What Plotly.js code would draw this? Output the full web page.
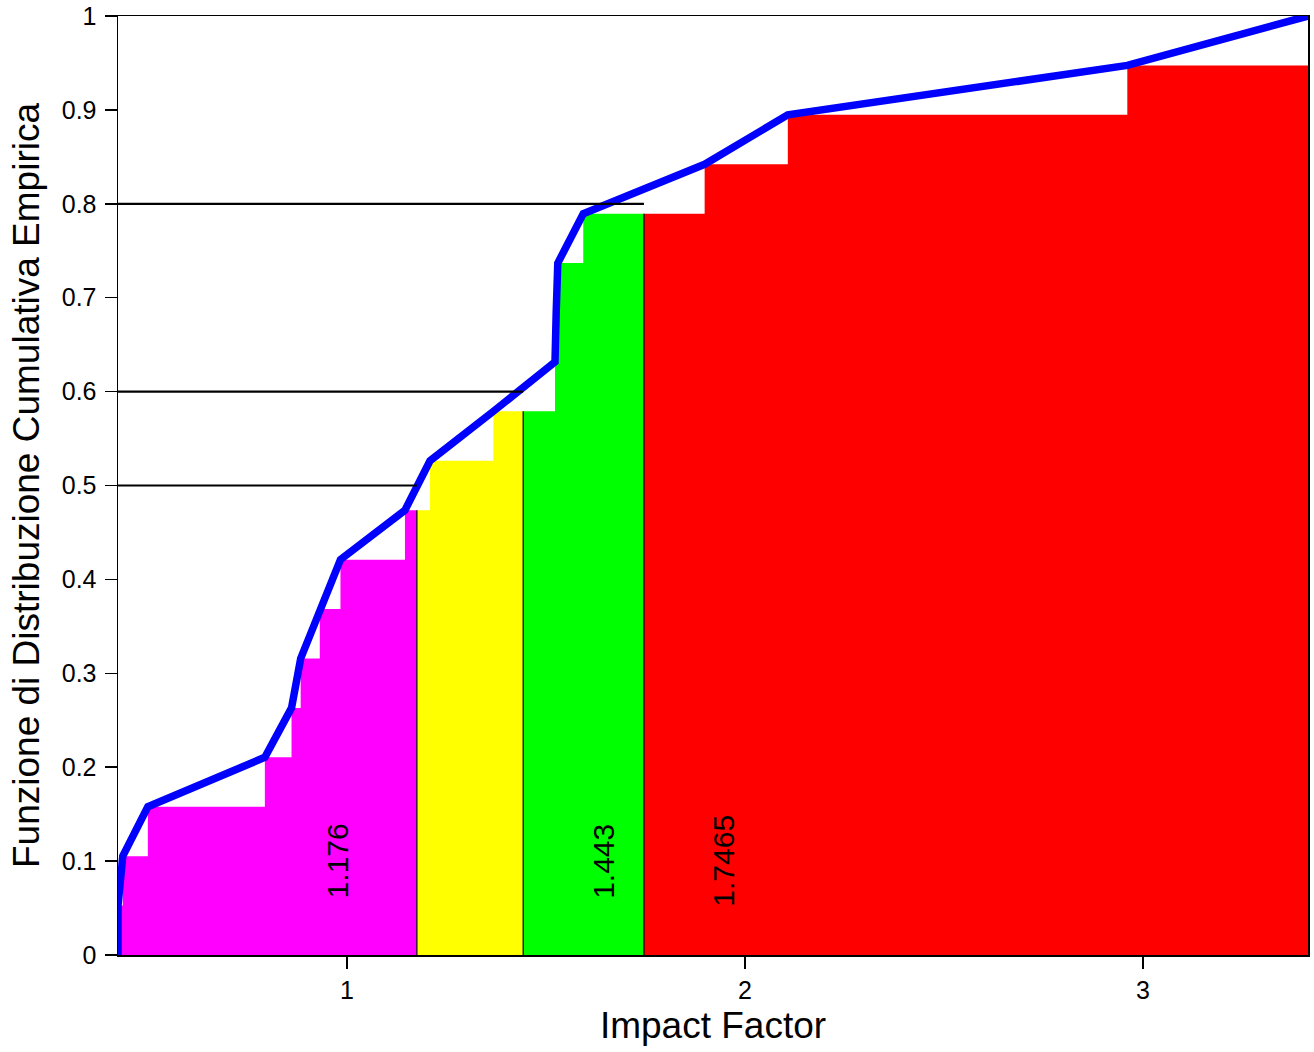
<!DOCTYPE html>
<html>
<head>
<meta charset="utf-8">
<script src="https://cdn.plot.ly/plotly-3.0.1.min.js"></script>
<style>html,body{margin:0;padding:0;background:#fff;}#chart{width:1314px;height:1052px;}</style>
</head>
<body>
<div id="chart"></div>
<script>
// Sorted Impact Factor values, n = 19
var impactFactor = [0.425, 0.437, 0.500, 0.794, 0.861, 0.884, 0.932, 0.984, 1.146, 1.209,
                    1.368, 1.523, 1.526, 1.530, 1.594, 1.899, 2.108, 2.961, 3.415];
// Empirical CDF values i/n
var n = impactFactor.length;
var ecdf = impactFactor.map(function(_, i){ return (i + 1) / n; });
// Quantiles shown in the chart
var quantileProbs = [0.5, 0.6, 0.8];
var quantileValues = [1.176, 1.443, 1.7465];
var quantileLabels = ["1.176", "1.443", "1.7465"];
var regionColors = ["#FF00FF", "#FFFF00", "#00FF00", "#FF0000"];

var xmin = impactFactor[0], xmax = impactFactor[n - 1];

function F(x){ // right-continuous ECDF
  var c = 0;
  for (var i = 0; i < n; i++) if (impactFactor[i] <= x) c = ecdf[i];
  return c;
}

var bounds = [xmin].concat(quantileValues).concat([xmax]);
var traces = [];
for (var s = 0; s < bounds.length - 1; s++) {
  var a = bounds[s], b = bounds[s + 1];
  var xs = [a], ys = [F(a)];
  for (var i = 0; i < n; i++) {
    if (impactFactor[i] > a && impactFactor[i] < b) { xs.push(impactFactor[i]); ys.push(ecdf[i]); }
  }
  xs.push(b); ys.push(ys[ys.length - 1]);
  traces.push({
    x: xs, y: ys, type: 'scatter', mode: 'lines',
    line: {shape: 'hv', width: 0, color: regionColors[s]},
    fill: 'tozeroy', fillcolor: regionColors[s], hoverinfo: 'skip', showlegend: false
  });
}

// ECDF polyline
traces.push({
  x: [xmin].concat(impactFactor), y: [0].concat(ecdf),
  type: 'scatter', mode: 'lines',
  line: {color: '#0000FF', width: 7.5}, showlegend: false
});

// Quantile guide segments
for (var k = 0; k < quantileValues.length; k++) {
  var q = quantileValues[k];
  traces.push({
    x: [q, q], y: [0, F(q)], type: 'scatter', mode: 'lines',
    line: {color: '#000', width: 1.2}, showlegend: false
  });
  traces.push({
    x: [xmin, q], y: [quantileProbs[k], quantileProbs[k]], type: 'scatter', mode: 'lines',
    line: {color: '#000', width: 2.2}, showlegend: false
  });
}

var labelOffsets = [-0.2, 0.2, 0.2];
var annotations = quantileValues.map(function(q, k){
  return {
    x: q + labelOffsets[k], y: 0.1, xref: 'x', yref: 'y',
    text: quantileLabels[k], showarrow: false, textangle: -90,
    font: {size: 30, color: '#000'}, xanchor: 'center', yanchor: 'middle'
  };
});

var font = "'Liberation Sans', Arial, Helvetica, sans-serif";
var layout = {
  width: 1314, height: 1052,
  margin: {l: 118, r: 6, t: 16, b: 97},
  paper_bgcolor: '#fff', plot_bgcolor: '#fff',
  font: {family: font, color: '#000'},
  showlegend: false,
  xaxis: {
    range: [xmin, xmax], tickvals: [1, 2, 3], ticktext: ['1', '2', '3'],
    ticks: 'outside', ticklen: 12, tickwidth: 1.5, tickcolor: '#000',
    showline: true, linecolor: '#000', linewidth: 1.5, mirror: true,
    showgrid: false, zeroline: false,
    tickfont: {size: 25, family: font},
    title: {text: 'Impact Factor', font: {size: 37, family: font}, standoff: 9}
  },
  yaxis: {
    range: [0, 1], tickvals: [0,0.1,0.2,0.3,0.4,0.5,0.6,0.7,0.8,0.9,1],
    ticktext: ['0','0.1','0.2','0.3','0.4','0.5','0.6','0.7','0.8','0.9','1'],
    ticks: 'outside', ticklen: 12, tickwidth: 1.5, tickcolor: '#000',
    ticklabelstandoff: 3,
    showline: true, linecolor: '#000', linewidth: 1.5, mirror: true,
    showgrid: false, zeroline: false,
    tickfont: {size: 25, family: font},
    title: {text: 'Funzione di Distribuzione Cumulativa Empirica', font: {size: 37, family: font}, standoff: 11}
  },
  annotations: annotations
};

Plotly.newPlot('chart', traces, layout, {staticPlot: true, displayModeBar: false});
</script>
</body>
</html>
